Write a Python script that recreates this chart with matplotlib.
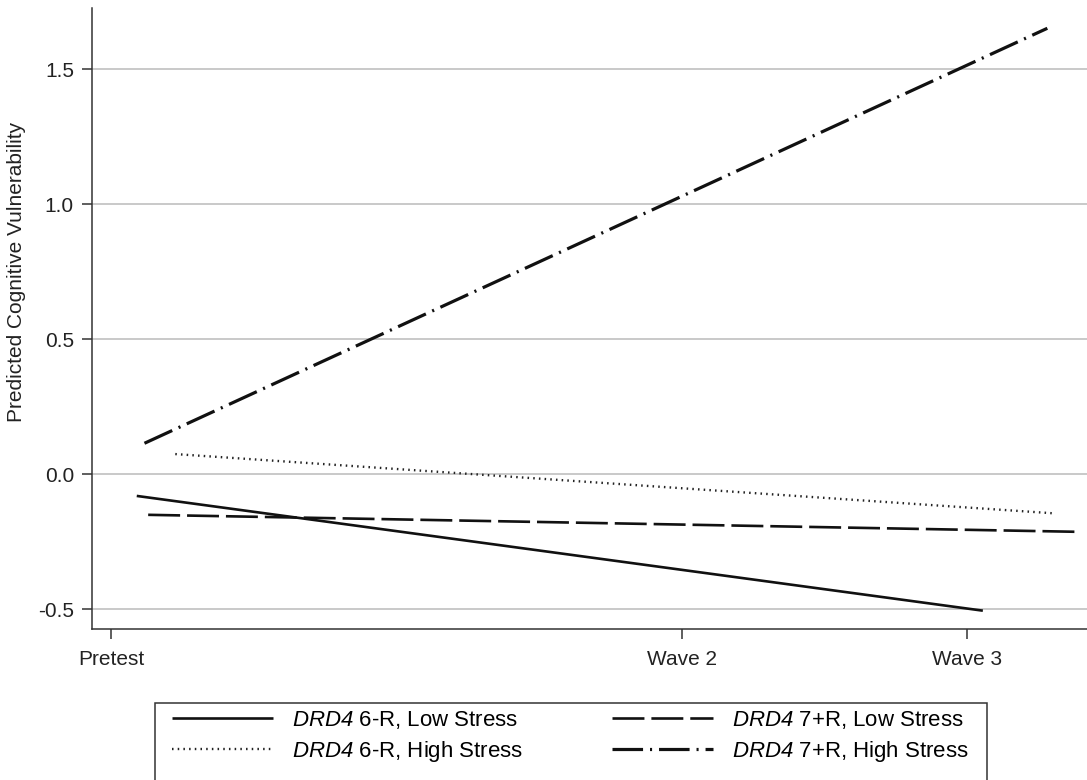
import matplotlib
matplotlib.use("Agg")
import matplotlib.pyplot as plt
from matplotlib.patches import Rectangle

plt.rcParams['font.family'] = ['Liberation Sans', 'DejaVu Sans']
plt.rcParams['mathtext.fontset'] = 'custom'
plt.rcParams['mathtext.it'] = 'Liberation Sans:italic'
plt.rcParams['mathtext.rm'] = 'Liberation Sans:italic'
plt.rcParams['lines.scale_dashes'] = False

# Data
tick_pos = [0, 2, 3]
tick_labels = ["Pretest", "Wave 2", "Wave 3"]
y_ticks = [-0.5, 0.0, 0.5, 1.0, 1.5]
y_tick_labels = ["-0.5", "0.0", "0.5", "1.0", "1.5"]

low6_x = [0.09, 3.055]
low6_y = [-0.08, -0.505]
low7_x = [0.13, 3.39]
low7_y = [-0.15, -0.213]
high6_x = [0.225, 3.297]
high6_y = [0.075, -0.144]
high7_x = [0.117, 3.281]
high7_y = [0.115, 1.652]

labels = [r"$\mathrm{DRD4}$ 6-R, Low Stress",
          r"$\mathrm{DRD4}$ 6-R, High Stress",
          r"$\mathrm{DRD4}$ 7+R, Low Stress",
          r"$\mathrm{DRD4}$ 7+R, High Stress"]

fig = plt.figure(figsize=(10.87, 7.8), dpi=100)
ax = fig.add_axes([0.0846, 0.1932, 0.9154, 0.7965])

line_col = '#111111'
l1, = ax.plot(low6_x, low6_y, color=line_col, lw=1.9, solid_capstyle='butt')
l2, = ax.plot(high6_x, high6_y, color='#222222', lw=1.7, linestyle=(0, (1.1, 3.0)))
l3, = ax.plot(low7_x, low7_y, color=line_col, lw=1.9, linestyle=(0, (23, 5)))
l4, = ax.plot(high7_x, high7_y, color=line_col, lw=2.3, linestyle=(0, (22, 5, 1.5, 5)))
for l in (l1, l2, l3, l4):
    l.set_dash_capstyle('butt')

ax.set_xlim(-0.067, 3.42)
ax.set_ylim(-0.574, 1.727)
ax.set_yticks(y_ticks)
ax.set_yticklabels(y_tick_labels)
ax.set_xticks(tick_pos)
ax.set_xticklabels(tick_labels)

for y in y_ticks:
    ax.axhline(y, color='#bbbbbb', lw=1.1, zorder=0)

for s in ('top', 'right'):
    ax.spines[s].set_visible(False)
for s in ('left', 'bottom'):
    ax.spines[s].set_color('#333333')
    ax.spines[s].set_linewidth(1.1)

ax.tick_params(axis='both', direction='out', length=7, width=1.1, color='#333333',
               labelsize=15, labelcolor='#222222')
ax.tick_params(axis='x', pad=8)
ax.tick_params(axis='y', pad=6)
ax.set_ylabel("Predicted Cognitive Vulnerability", fontsize=15, color='#222222')
ax.yaxis.set_label_coords(-0.066, 0.575)

# legend frame (runs past the bottom edge, as in the reference)
W, H = 1087.0, 780.0
fig.patches.append(Rectangle((155 / W, -0.02), (987 - 155) / W, (H - 703) / H + 0.02,
                             transform=fig.transFigure, fill=False,
                             edgecolor='#333333', lw=1.1))

leg = fig.legend([l1, l2, l3, l4], labels, ncol=2, loc='upper left',
                 bbox_to_anchor=(166 / W, 1 - 703 / H, (975 - 166) / W, 0.0),
                 mode='expand', fontsize=16, frameon=False, handlelength=4.55,
                 handletextpad=0.85, labelspacing=0.37, borderpad=0.27,
                 borderaxespad=0)

fig.savefig("out.png", dpi=100)
